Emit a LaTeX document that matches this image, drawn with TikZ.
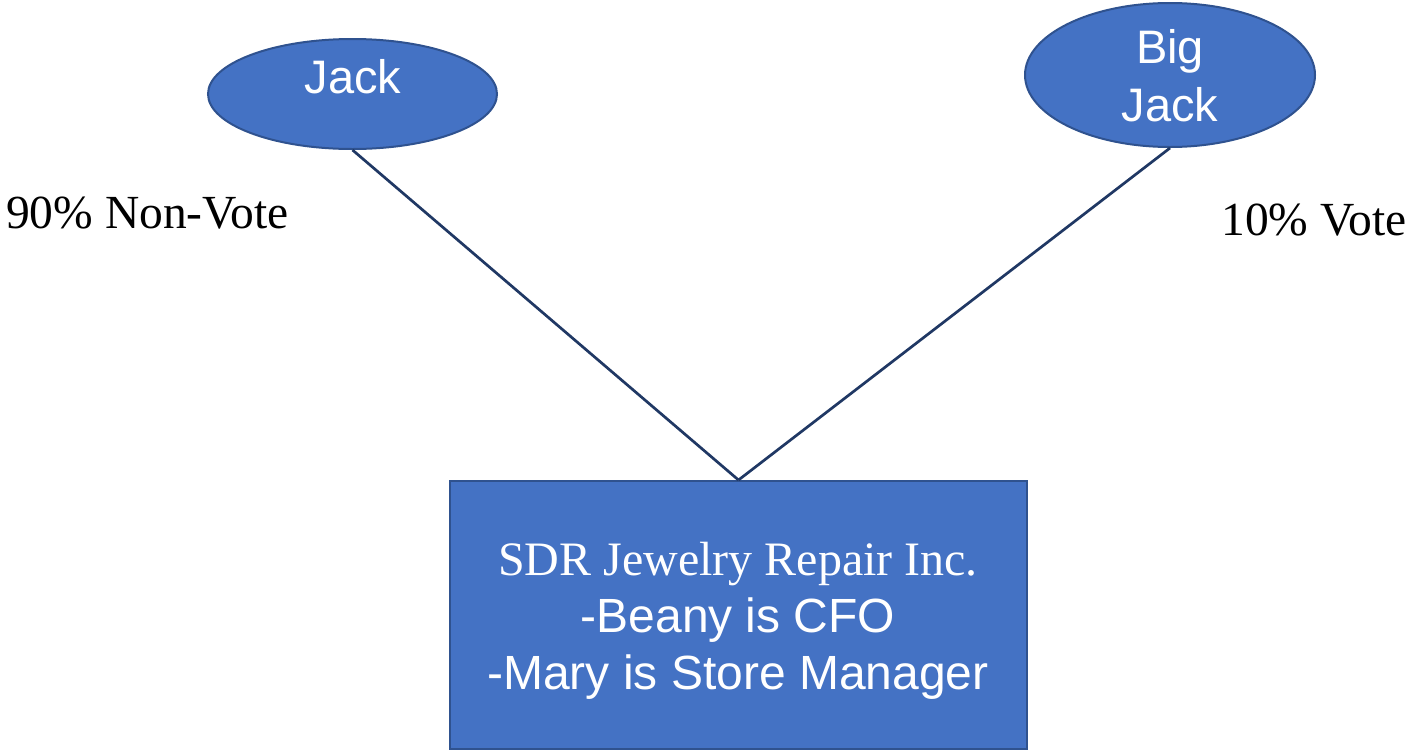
\documentclass[tikz,border=0pt]{standalone}
\usepackage{fontspec}
\setmainfont{Liberation Serif}
\setsansfont{Liberation Sans}
\usetikzlibrary{shapes.geometric}
\definecolor{shapefill}{HTML}{4472C4}
\definecolor{shapeedge}{HTML}{2F528F}
\definecolor{linkcol}{HTML}{203864}
\tikzset{
  oval/.style={ellipse, fill=shapefill, draw=shapeedge, line width=2pt, inner sep=0pt},
  firmbox/.style={rectangle, fill=shapefill, draw=shapeedge, line width=2pt, inner sep=0pt},
  whitetext/.style={text=white, font=\sffamily\fontsize{47}{58}\selectfont, align=center, inner sep=0pt},
  boxtext/.style={text=white, font=\sffamily\fontsize{48}{57}\selectfont, align=center, inner sep=0pt},
  sidelabel/.style={text=black, font=\rmfamily\fontsize{47.5}{56}\selectfont, inner sep=0pt},
  link/.style={draw=linkcol, line width=2.7pt}
}
\begin{document}
\begin{tikzpicture}[x=1pt, y=-1pt]
  \useasboundingbox (0,0) rectangle (1408,750);

  % owners
  \node[oval, minimum width=289pt, minimum height=110pt] (jack) at (352.5,94) {};
  \node[whitetext, anchor=base] (jacktxt) at (353,93) {Jack};

  \node[oval, minimum width=290pt, minimum height=144pt] (bigjack) at (1170,75) {};
  \node[whitetext, anchor=base] (bigjacktxt) at (1170,121) {Big\\Jack};

  % company
  \node[firmbox, minimum width=577pt, minimum height=268pt] (firm) at (738.5,615) {};
  \node[boxtext, anchor=base] (firmtxt) at (738,689)
    {{\rmfamily SDR Jewelry Repair Inc.}\\-Beany is CFO\\-Mary is Store Manager};

  % ownership links
  \draw[link] (jack.south) -- (firm.north);
  \draw[link] (bigjack.south) -- (firm.north);

  % share classes
  \node[sidelabel, anchor=base] (nonvote) at (147.5,228) {90\% Non-Vote};
  \node[sidelabel, anchor=base] (vote) at (1314,235) {10\% Vote};
\end{tikzpicture}
\end{document}
